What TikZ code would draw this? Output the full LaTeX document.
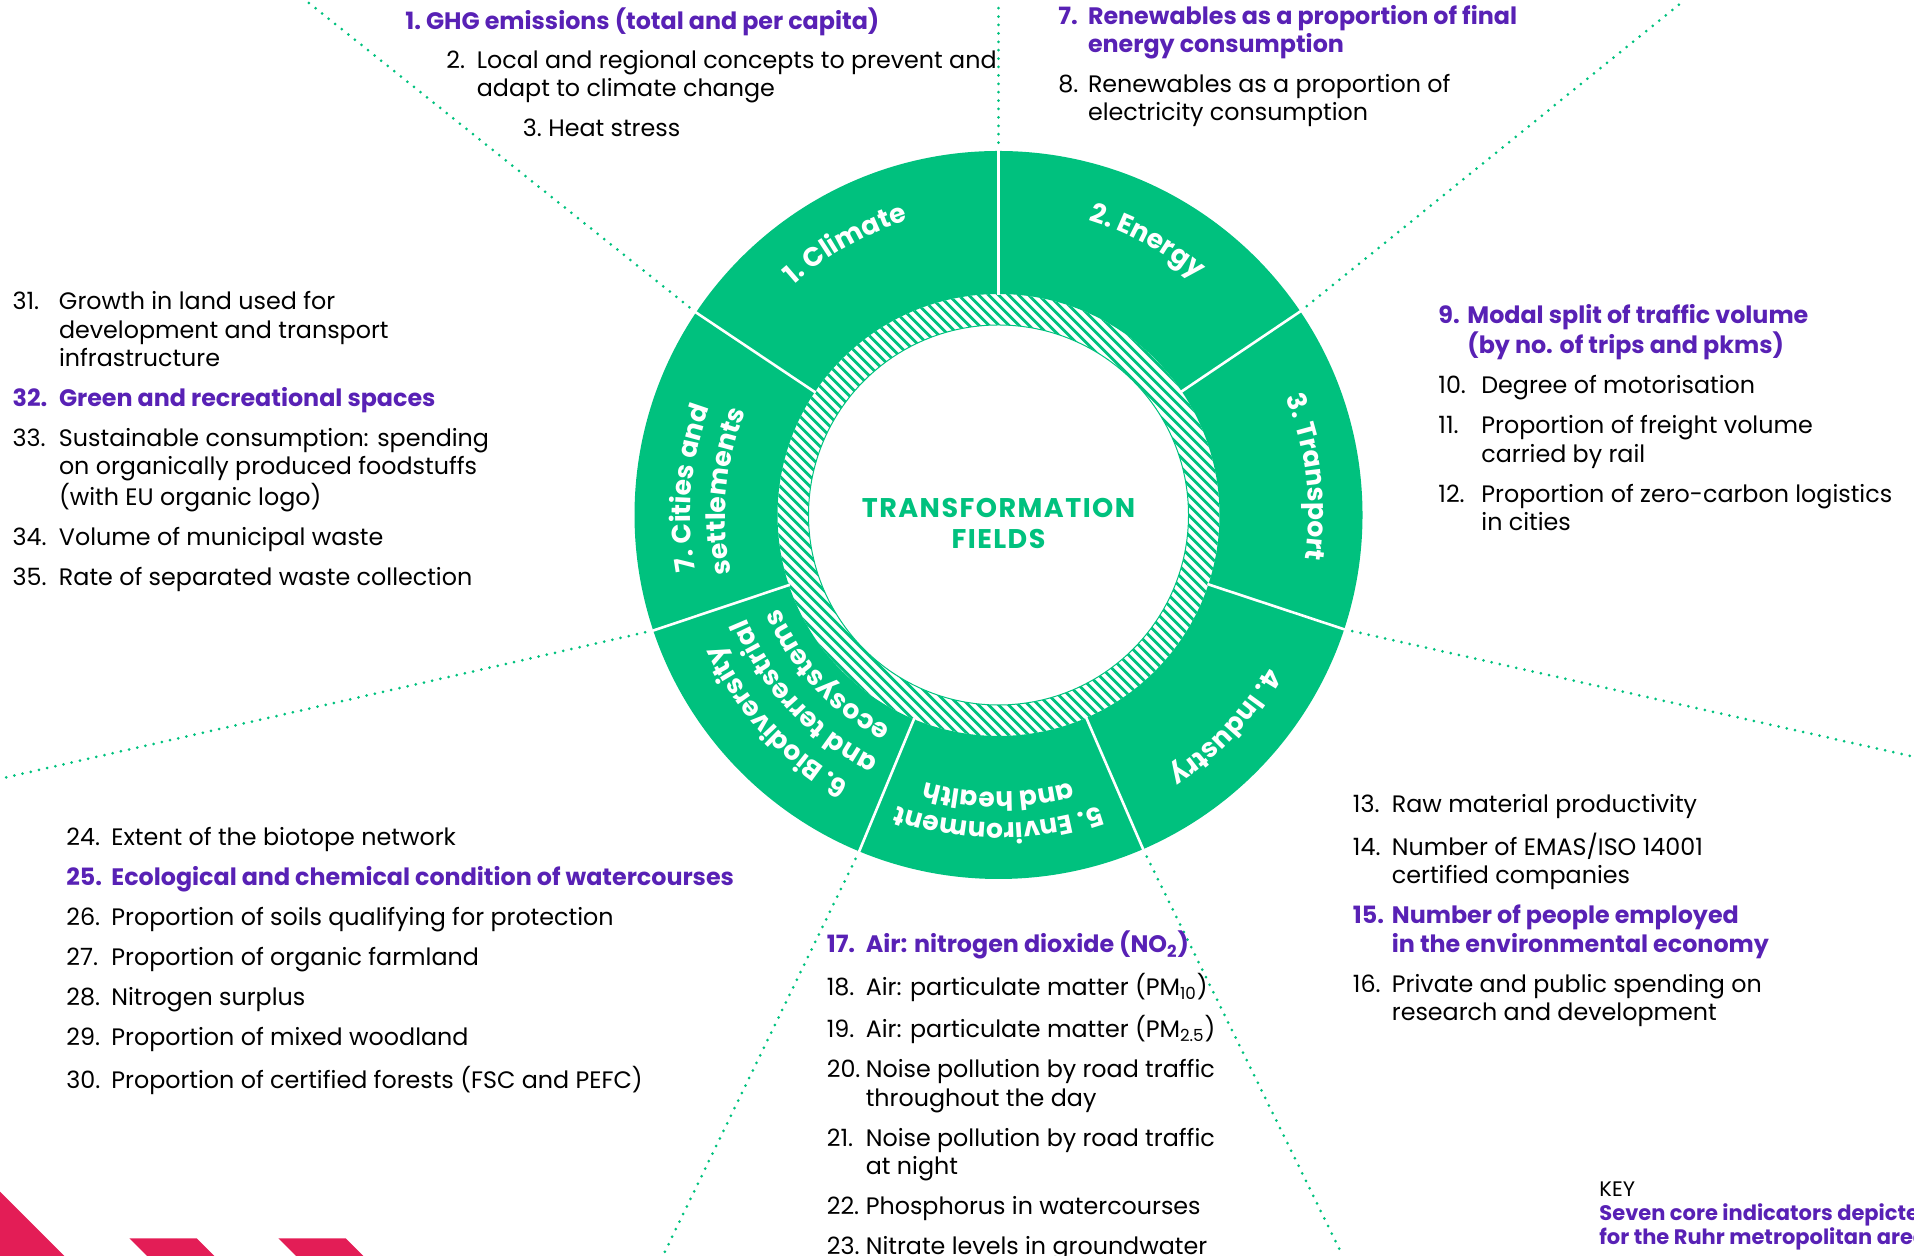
\documentclass[tikz,border=0pt]{standalone}
\usepackage{fontspec}
\setmainfont{Poppins}
\usetikzlibrary{decorations.text}

\definecolor{fieldgreen}{HTML}{00C17E}
\definecolor{corepurple}{HTML}{5821B5}
\definecolor{ruhrred}{HTML}{E31D56}

\newcommand{\listfont}{\fontsize{11.9}{14.15}\selectfont}
\newcommand{\ringfont}{\fontsize{13.3}{15}\selectfont\bfseries}
\newcommand{\core}[1]{\textcolor{corepurple}{\bfseries #1}}
\newcommand{\itemgap}{\\[5.85pt]}

\tikzset{
  itemlist/.style={anchor=base west, inner sep=0pt, font=\listfont},
  corelist/.style={anchor=base west, inner sep=0pt, font=\listfont\bfseries, text=corepurple},
  dotline/.style={fieldgreen, line width=1.5pt, dash pattern=on 0pt off 4.2pt, line cap=round},
  divider/.style={white, line width=1.3pt},
  hatchline/.style={fieldgreen, line width=1.4pt},
}

\begin{document}
\begin{tikzpicture}[x=0.5pt, y=0.5pt]
\useasboundingbox (0,0) rectangle (1914,1256);
\clip (0,0) rectangle (1914,1256);

% ring centre, divider ends and picture edge points
\coordinate (ctr) at (998.5,741);
\begin{scope}[shift={(ctr)}]
\coordinate (d1) at (90:364);
\coordinate (d2) at (34:364);
\coordinate (d3) at (-18.3:364);
\coordinate (d4) at (-66.6:364);
\coordinate (d5) at (247.5:364);
\coordinate (d6) at (198.5:364);
\coordinate (d7) at (146.2:364);
\end{scope}
\coordinate (e1) at (998.5,1256);
\coordinate (e2) at (1684.6,1256);
\coordinate (e3) at (1914,499.2);
\coordinate (e4) at (1342.8,0);
\coordinate (e5) at (662.8,0);
\coordinate (e6) at (0,477.2);
\coordinate (e7) at (305.2,1256);

\draw[dotline] (d1) -- (e1);
\draw[dotline] (d2) -- (e2);
\draw[dotline] (d3) -- (e3);
\draw[dotline] (d4) -- (e4);
\draw[dotline] (d5) -- (e5);
\draw[dotline] (d6) -- (e6);
\draw[dotline] (d7) -- (e7);

\begin{scope}[shift={(ctr)}]
\fill[fieldgreen, even odd rule] (0,0) circle[radius=364] (0,0) circle[radius=221];
% hatched band
\begin{scope}
\clip (0,0) circle[radius=221];
\foreach \c in {-330,-320,...,330}
  \draw[hatchline] (-300,{300+\c}) -- (300,{-300+\c});
\end{scope}
\fill[white] (0,0) circle[radius=190];
\draw[fieldgreen, line width=0.5pt] (0,0) circle[radius=190];
\foreach \a in {90,34,-18.3,-66.6,247.5,198.5,146.2}
  \draw[divider] (\a:220) -- (\a:366);

% field names
\path[decorate, decoration={text along path, text align=center, text color=white,
  text={|\ringfont|1. Climate}}] (147.5:308) arc[start angle=147.5, end angle=91.5, radius=308];
\path[decorate, decoration={text along path, text align=center, text color=white,
  text={|\ringfont|2. Energy}}] (89.5:308) arc[start angle=89.5, end angle=33.5, radius=308];
\path[decorate, decoration={text along path, text align=center, text color=white,
  text={|\ringfont|3. Transport}}] (35:310) arc[start angle=35, end angle=-21, radius=310];
\path[decorate, decoration={text along path, text align=center, text color=white,
  text={|\ringfont|4. Industry}}] (-15:309) arc[start angle=-15, end angle=-71, radius=309];
\path[decorate, decoration={text along path, text align=center, text color=white,
  text={|\ringfont|5. Environment}}] (-62:308) arc[start angle=-62, end angle=-118, radius=308];
\path[decorate, decoration={text along path, text align=center, text color=white,
  text={|\ringfont|and health}}] (-62:277) arc[start angle=-62, end angle=-118, radius=277];
\path[decorate, decoration={text along path, text align=center, text color=white,
  text={|\ringfont|6. Biodiversity}}] (251:307) arc[start angle=251, end angle=195, radius=307];
\path[decorate, decoration={text along path, text align=center, text color=white,
  text={|\ringfont|and terrestrial}}] (251:272) arc[start angle=251, end angle=195, radius=272];
\path[decorate, decoration={text along path, text align=center, text color=white,
  text={|\ringfont|ecosystems}}] (251:238) arc[start angle=251, end angle=195, radius=238];
\path[decorate, decoration={text along path, text align=center, text color=white,
  text={|\ringfont|7. Cities and}}] (203:308) arc[start angle=203, end angle=147, radius=308];
\path[decorate, decoration={text along path, text align=center, text color=white,
  text={|\ringfont|settlements}}] (203:273) arc[start angle=203, end angle=147, radius=273];
\end{scope}

\node[font=\fontsize{13.5}{15.7}\selectfont\bfseries\addfontfeatures{LetterSpace=5.5},
  text=fieldgreen, align=center, inner sep=0pt] (fields) at (998.5,732.5) {TRANSFORMATION\\FIELDS};

% 1. Climate
\node[corelist] (ghg) at (405,1226.7) {1.\ GHG emissions (total and per capita)};
\node[itemlist] (concepts) at (446,1187.6) {\begin{tabular}[t]{@{}p{15.25pt}@{}l@{}}
2. & Local and regional concepts to prevent and\\
   & adapt to climate change
\end{tabular}};
\node[itemlist] (heat) at (522.5,1119.3) {3.\ Heat stress};

% 2. Energy
\node[itemlist] (energy) at (1058,1231.6) {\begin{tabular}[t]{@{}p{14.8pt}@{}l@{}}
\core{7.} & \core{Renewables as a proportion of final}\\
          & \core{energy consumption}\itemgap
8. & Renewables as a proportion of\\
   & electricity consumption
\end{tabular}};

% 3. Transport
\node[itemlist] (transport) at (1438,932.5) {\begin{tabular}[t]{@{}p{21.5pt}@{}l@{}}
\multicolumn{2}{@{}l@{}}{\core{\makebox[14.5pt][l]{9.}Modal split of traffic volume}}\\
\multicolumn{2}{@{}l@{}}{\core{\makebox[14.5pt][l]{}(by no. of trips and pkms)}}\itemgap
10. & Degree of motorisation\itemgap
11. & Proportion of freight volume\\
    & carried by rail\itemgap
12. & Proportion of zero-carbon logistics\\
    & in cities
\end{tabular}};

% 4. Industry
\node[itemlist] (industry) at (1352.5,443) {\begin{tabular}[t]{@{}p{19.5pt}@{}l@{}}
13. & Raw material productivity\itemgap
14. & Number of EMAS/ISO 14001\\
    & certified companies\itemgap
\core{15.} & \core{Number of people employed}\\
           & \core{in the environmental economy}\itemgap
16. & Private and public spending on\\
    & research and development
\end{tabular}};

% 5. Environment and health
\node[itemlist] (health) at (826.4,303) {\begin{tabular}[t]{@{}p{19.5pt}@{}l@{}}
\core{17.} & \core{Air: nitrogen dioxide (NO\textsubscript{2})}\itemgap
18. & Air: particulate matter (PM\textsubscript{10})\itemgap
19. & Air: particulate matter (PM\textsubscript{2.5})\itemgap
20. & Noise pollution by road traffic\\
    & throughout the day\itemgap
21. & Noise pollution by road traffic\\
    & at night\itemgap
22. & Phosphorus in watercourses\itemgap
23. & Nitrate levels in groundwater
\end{tabular}};

% 6. Biodiversity
\node[itemlist] (biodiv) at (66,410) {\begin{tabular}[t]{@{}p{22.5pt}@{}l@{}}
24. & Extent of the biotope network\itemgap
\core{25.} & \core{Ecological and chemical condition of watercourses}\itemgap
26. & Proportion of soils qualifying for protection\itemgap
27. & Proportion of organic farmland\itemgap
28. & Nitrogen surplus\itemgap
29. & Proportion of mixed woodland\itemgap
30. & Proportion of certified forests (FSC and PEFC)
\end{tabular}};

% 7. Cities
\node[itemlist] (cities) at (12.2,946) {\begin{tabular}[t]{@{}p{23.2pt}@{}l@{}}
31. & Growth in land used for\\
    & development and transport\\
    & infrastructure\itemgap
\core{32.} & \core{Green and recreational spaces}\itemgap
33. & Sustainable consumption: spending\\
    & on organically produced foodstuffs\\
    & (with EU organic logo)\itemgap
34. & Volume of municipal waste\itemgap
35. & Rate of separated waste collection
\end{tabular}};

% key
\node[anchor=base west, inner sep=0pt, font=\fontsize{10.5}{11.75}\selectfont] (key) at (1599,59)
  {\begin{tabular}[t]{@{}l@{}}
  KEY\\
  \core{Seven core indicators depicted}\\
  \core{for the Ruhr metropolitan area}
  \end{tabular}};

% corner marks
\fill[ruhrred] (0,64.3) -- (64.3,0) -- (0,0) -- cycle;
\fill[ruhrred] (129.3,17.7) -- (196.7,17.7) -- (214.4,0) -- (147,0) -- cycle;
\fill[ruhrred] (278.3,17.7) -- (345.7,17.7) -- (363.4,0) -- (296,0) -- cycle;
\end{tikzpicture}
\end{document}
